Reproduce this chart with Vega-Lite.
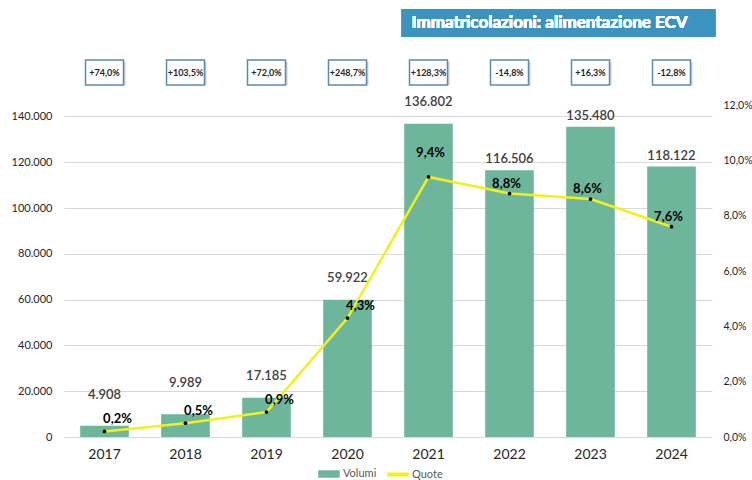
{
  "$schema": "https://vega.github.io/schema/vega-lite/v6.json",
  "width": 648,
  "height": 428,
  "autosize": {"type": "pad"},
  "padding": {"left": 11, "top": 9, "right": 0, "bottom": 0},
  "background": "white",
  "config": {
    "locale": {"number": {"decimal": ",", "thousands": ".", "grouping": [3], "currency": ["€", ""], "minus": "-"}},
    "view": {"stroke": null},
    "font": "Lato"
  },
  "data": {
    "values": [
      {"anno": "2017", "volumi": 4908, "quota": 0.002, "var": "+74,0%"},
      {"anno": "2018", "volumi": 9989, "quota": 0.005, "var": "+103,5%"},
      {"anno": "2019", "volumi": 17185, "quota": 0.009, "var": "+72,0%"},
      {"anno": "2020", "volumi": 59922, "quota": 0.043, "var": "+248,7%"},
      {"anno": "2021", "volumi": 136802, "quota": 0.094, "var": "+128,3%"},
      {"anno": "2022", "volumi": 116506, "quota": 0.088, "var": "-14,8%"},
      {"anno": "2023", "volumi": 135480, "quota": 0.086, "var": "+16,3%"},
      {"anno": "2024", "volumi": 118122, "quota": 0.076, "var": "-12,8%"}
    ]
  },
  "encoding": {
    "x": {
      "field": "anno", "type": "nominal",
      "scale": {"paddingInner": 0.4, "paddingOuter": 0.2},
      "axis": {"title": null, "labelAngle": 0, "labelFontSize": 14, "labelColor": "#262626", "ticks": false, "domain": false, "labelPadding": 10}
    }
  },
  "resolve": {"scale": {"y": "independent"}},
  "layer": [
    {
      "layer": [
        {
          "mark": {"type": "bar"},
          "encoding": {
            "y": {
              "field": "volumi", "type": "quantitative",
              "scale": {"domain": [0, 186900]},
              "axis": {"title": null, "values": [0, 20000, 40000, 60000, 80000, 100000, 120000, 140000], "format": ",.0f", "grid": true, "gridColor": "#d9d9d9", "ticks": false, "domain": false, "labelFontSize": 11, "labelColor": "#262626", "labelPadding": 12}
            },
            "color": {
              "datum": "Volumi", "type": "nominal",
              "scale": {"domain": ["Volumi", "Quote"], "range": ["#6db69b", "#f2f21a"]},
              "legend": {
                "title": null, "orient": "none", "legendX": 254, "legendY": 454, "direction": "horizontal",
                "labelFont": "Lato", "labelFontSize": 11, "labelColor": "#595959",
                "symbolSize": 400, "columnPadding": 8, "labelOffset": 3,
                "encode": {"symbols": {"update": {
                  "shape": {"signal": "datum.label === 'Quote' ? 'M-1,-0.12H1V0.12H-1Z' : 'M-1,-0.3H1V0.3H-1Z'"},
                  "fill": {"scale": "color", "field": "value"},
                  "stroke": {"value": "transparent"}
                }}}
              }
            }
          }
        },
        {
          "transform": [{"filter": {"field": "anno", "oneOf": ["2017", "2018"]}}],
          "mark": {"type": "text", "dy": -31, "fontSize": 13, "color": "#404040", "fontWeight": 600},
          "encoding": {
            "y": {"field": "volumi", "type": "quantitative", "scale": {"domain": [0, 186900]}},
            "text": {"field": "volumi", "type": "quantitative", "format": ",.0f"}
          }
        },
        {
          "transform": [{"filter": {"field": "anno", "oneOf": ["2019", "2020", "2021"]}}],
          "mark": {"type": "text", "dy": -22, "fontSize": 13, "color": "#404040", "fontWeight": 600},
          "encoding": {
            "y": {"field": "volumi", "type": "quantitative", "scale": {"domain": [0, 186900]}},
            "text": {"field": "volumi", "type": "quantitative", "format": ",.0f"}
          }
        },
        {
          "transform": [{"filter": {"field": "anno", "oneOf": ["2022", "2023", "2024"]}}],
          "mark": {"type": "text", "dy": -11, "fontSize": 13, "color": "#404040", "fontWeight": 600},
          "encoding": {
            "y": {"field": "volumi", "type": "quantitative", "scale": {"domain": [0, 186900]}},
            "text": {"field": "volumi", "type": "quantitative", "format": ",.0f"}
          }
        },
        {
          "mark": {"type": "bar", "width": 38, "fill": "#d0d0d0", "xOffset": 2, "yOffset": 2},
          "encoding": {
            "y": {"datum": 164629, "type": "quantitative", "scale": {"domain": [0, 186900]}},
            "y2": {"datum": 153712}
          }
        },
        {
          "mark": {"type": "bar", "width": 38, "fill": "white", "stroke": "#5a8ab0", "strokeWidth": 1.5},
          "encoding": {
            "y": {"datum": 164629, "type": "quantitative", "scale": {"domain": [0, 186900]}},
            "y2": {"datum": 153712}
          }
        },
        {
          "mark": {"type": "text", "fontSize": 9, "fontWeight": "bold", "color": "#262626"},
          "encoding": {
            "y": {"datum": 159170, "type": "quantitative", "scale": {"domain": [0, 186900]}},
            "text": {"field": "var", "type": "nominal"}
          }
        },
        {
          "mark": {"type": "rect", "fill": "#3b93c0"},
          "encoding": {
            "x": {"datum": "2021", "type": "nominal", "bandPosition": -0.05},
            "x2": {"datum": "2024", "bandPosition": 1.4},
            "y": {"datum": 186900, "type": "quantitative", "scale": {"domain": [0, 186900]}},
            "y2": {"datum": 174672}
          }
        },
        {
          "mark": {"type": "text", "align": "left", "fontSize": 17, "fontWeight": "bold", "color": "white"},
          "encoding": {
            "x": {"datum": "2021", "type": "nominal", "bandPosition": 0.15},
            "y": {"datum": 180800, "type": "quantitative", "scale": {"domain": [0, 186900]}},
            "text": {"value": "Immatricolazioni: alimentazione ECV"}
          }
        }
      ]
    },
    {
      "layer": [
        {
          "mark": {"type": "line", "strokeWidth": 2.5},
          "encoding": {
            "y": {
              "field": "quota", "type": "quantitative",
              "scale": {"domain": [0, 0.1547]},
              "axis": {"title": null, "orient": "right", "values": [0, 0.02, 0.04, 0.06, 0.08, 0.1, 0.12], "format": ".1%", "grid": false, "ticks": false, "domain": false, "labelFontSize": 10.5, "labelColor": "#262626", "labelPadding": 11}
            },
            "color": {"datum": "Quote", "type": "nominal"}
          }
        },
        {
          "mark": {"type": "point", "filled": true, "size": 14, "color": "black", "opacity": 1},
          "encoding": {
            "y": {"field": "quota", "type": "quantitative", "scale": {"domain": [0, 0.1547]}}
          }
        },
        {
          "transform": [{"filter": {"field": "anno", "oneOf": ["2017", "2018", "2019", "2020"]}}],
          "mark": {"type": "text", "dx": 13, "dy": -12, "fontSize": 13, "fontWeight": "bold", "color": "black"},
          "encoding": {
            "y": {"field": "quota", "type": "quantitative", "scale": {"domain": [0, 0.1547]}},
            "text": {"field": "quota", "type": "quantitative", "format": ".1%"}
          }
        },
        {
          "transform": [{"filter": {"field": "anno", "oneOf": ["2021"]}}],
          "mark": {"type": "text", "dx": 2, "dy": -24, "fontSize": 13, "fontWeight": "bold", "color": "black"},
          "encoding": {
            "y": {"field": "quota", "type": "quantitative", "scale": {"domain": [0, 0.1547]}},
            "text": {"field": "quota", "type": "quantitative", "format": ".1%"}
          }
        },
        {
          "transform": [{"filter": {"field": "anno", "oneOf": ["2022", "2023", "2024"]}}],
          "mark": {"type": "text", "dx": -3, "dy": -10, "fontSize": 13, "fontWeight": "bold", "color": "black"},
          "encoding": {
            "y": {"field": "quota", "type": "quantitative", "scale": {"domain": [0, 0.1547]}},
            "text": {"field": "quota", "type": "quantitative", "format": ".1%"}
          }
        }
      ]
    }
  ]
}
